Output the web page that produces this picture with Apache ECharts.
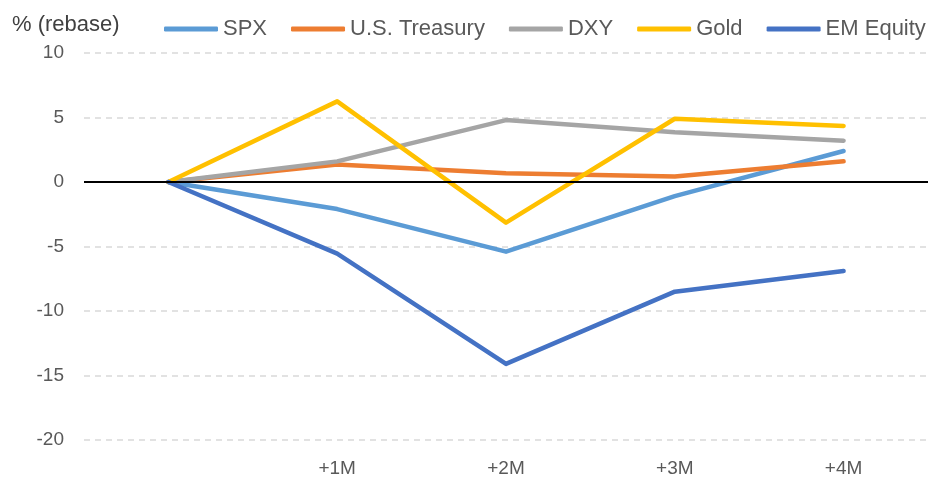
<!DOCTYPE html>
<html>
<head>
<meta charset="utf-8">
<script src="https://cdn.jsdelivr.net/npm/echarts@6/dist/echarts.min.js"></script>
<style>
html, body { margin: 0; padding: 0; background: #fff; }
#container { width: 934px; height: 478px; }
</style>
</head>
<body>
<div id="container"></div>
<script>
var categories = ['', '+1M', '+2M', '+3M', '+4M'];
var spx = [0, -2.1, -5.4, -1.1, 2.4];
var treasury = [0, 1.35, 0.68, 0.42, 1.6];
var dxy = [0, 1.6, 4.8, 3.85, 3.2];
var gold = [0, 6.25, -3.15, 4.9, 4.35];
var emEquity = [0, -5.55, -14.1, -8.5, -6.9];
var yTicks = [-20, -15, -10, -5, 0, 5, 10];

var dom = document.getElementById("container");
var myChart = echarts.init(dom);
var font = 'Liberation Sans, Arial, sans-serif';

function line(name, data, color) {
    return {
        name: name,
        type: 'line',
        data: data,
        symbol: 'none',
        lineStyle: { width: 4.5, color: color, cap: 'round', join: 'round' },
        itemStyle: { color: color }
    };
}

var series = [
    line('SPX', spx, '#5B9BD5'),
    line('U.S. Treasury', treasury, '#ED7D31'),
    line('DXY', dxy, '#A5A5A5'),
    line('Gold', gold, '#FFC000'),
    line('EM Equity', emEquity, '#4472C4')
];
// zero line
series[0].markLine = {
    silent: true,
    symbol: 'none',
    label: { show: false },
    lineStyle: { color: '#000', width: 2, type: 'solid' },
    data: [{ yAxis: 0 }]
};

var option = {
    animation: false,
    textStyle: { fontFamily: font },
    title: {
        text: '% (rebase)',
        left: 7,
        top: 9,
        textStyle: { fontSize: 22, fontWeight: 'normal', color: '#404040', fontFamily: font }
    },
    legend: {
        top: 13,
        left: 159,
        itemWidth: 54,
        itemHeight: 5,
        itemGap: 24,
        icon: 'roundRect',
        textStyle: { fontSize: 22, color: '#595959', fontFamily: font },
        data: ['SPX', 'U.S. Treasury', 'DXY', 'Gold', 'EM Equity']
    },
    grid: { left: 84, right: 6, top: 53, bottom: 38 },
    xAxis: {
        type: 'category',
        data: categories,
        boundaryGap: true,
        axisLine: { show: false, onZero: false },
        axisTick: { show: false },
        axisLabel: { fontSize: 19, color: '#595959', margin: 19, fontFamily: font }
    },
    yAxis: {
        type: 'value',
        min: yTicks[0],
        max: yTicks[yTicks.length - 1],
        interval: 5,
        axisLine: { show: false },
        axisTick: { show: false },
        axisLabel: { fontSize: 19, color: '#595959', margin: 20, fontFamily: font },
        splitLine: { lineStyle: { color: '#D9D9D9', type: [6, 5], width: 1.5 } }
    },
    series: series
};

myChart.setOption(option, true);
window.onresize = function () {
    myChart.resize();
};
</script>
</body>
</html>
